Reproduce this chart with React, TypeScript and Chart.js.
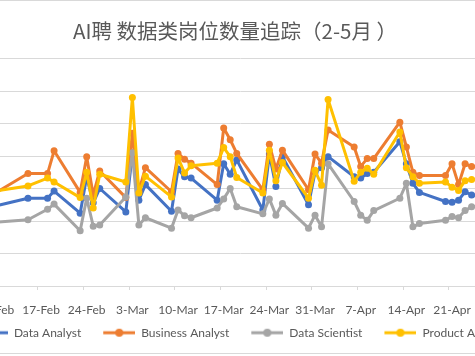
import React, { useEffect, useRef } from 'react';
import { Chart, registerables } from 'chart.js';

Chart.register(...registerables);

const titleText = 'AI聘 数据类岗位数量追踪（2-5月 ）';
const seriesNames = ['Data Analyst', 'Business Analyst', 'Data Scientist', 'Product Analyst'];
const seriesColors = ['#4472C4', '#ED7D31', '#A5A5A5', '#FFC000'];

const dates = [
  '2019-02-10', '2019-02-15', '2019-02-18', '2019-02-19', '2019-02-23', '2019-02-24', '2019-02-25', '2019-02-26',
  '2019-03-02', '2019-03-03', '2019-03-04', '2019-03-05', '2019-03-09', '2019-03-10', '2019-03-11', '2019-03-12',
  '2019-03-16', '2019-03-17', '2019-03-18', '2019-03-19', '2019-03-23', '2019-03-24', '2019-03-25', '2019-03-26',
  '2019-03-30', '2019-03-31', '2019-04-01', '2019-04-02', '2019-04-06', '2019-04-07', '2019-04-08', '2019-04-09',
  '2019-04-13', '2019-04-14', '2019-04-15', '2019-04-16', '2019-04-20', '2019-04-21', '2019-04-22', '2019-04-23',
  '2019-04-24', '2019-04-27',
];

const dataAnalyst = [
  123, 135, 135, 146, 112, 168, 128, 150,
  114, 205, 132, 156, 115, 180, 168, 166, 132, 188, 172, 194, 117, 203, 153, 199, 125, 175,
  182, 199, 168, 166, 173, 175, 222, 188, 158, 144, 130, 129, 132, 145, 140, 138,
];
const businessAnalyst = [
  143, 173, 173, 208, 144, 199, 140, 177,
  136, 235, 146, 182, 145, 204, 195, 189, 156, 243, 225, 204, 148, 218, 180, 209, 148, 203,
  189, 240, 214, 184, 196, 196, 252, 214, 175, 170, 170, 188, 156, 188, 184, 182,
];
const dataScientist = [
  98, 102, 118, 126, 85, 135, 92, 94,
  137, 205, 94, 105, 89, 117, 108, 105, 120, 134, 150, 122, 111, 134, 109, 127, 89, 109,
  91, 188, 130, 109, 101, 116, 135, 158, 91, 96, 101, 107, 105, 116, 122, 124,
];
const productAnalyst = [
  146, 154, 166, 160, 136, 175, 120, 172,
  160, 290, 143, 169, 137, 197, 174, 185, 189, 213, 199, 167, 143, 209, 162, 190, 135, 178,
  155, 287, 161, 175, 181, 172, 237, 182, 168, 158, 160, 152, 147, 162, 164, 165,
];

const tickDates = [
  '2019-02-10', '2019-02-17', '2019-02-24', '2019-03-03', '2019-03-10', '2019-03-17',
  '2019-03-24', '2019-03-31', '2019-04-07', '2019-04-14', '2019-04-21',
];
const tickLabels = [
  '10-Feb', '17-Feb', '24-Feb', '3-Mar', '10-Mar', '17-Mar',
  '24-Mar', '31-Mar', '7-Apr', '14-Apr', '21-Apr',
];

const X_MIN = -11.5;
const PX_PER_DAY = 6.524;

const BASE = Date.UTC(2019, 1, 17);
const dayIdx = (iso: string) => {
  const [y, m, d] = iso.split('-').map(Number);
  return (Date.UTC(y, m - 1, d) - BASE) / 86400000;
};

function legendImage(color: string) {
  const c = document.createElement('canvas');
  c.width = 44;
  c.height = 10;
  const ctx = c.getContext('2d')!;
  ctx.strokeStyle = color;
  ctx.lineWidth = 3;
  ctx.beginPath();
  ctx.moveTo(12, 5);
  ctx.lineTo(44, 5);
  ctx.stroke();
  ctx.fillStyle = color;
  ctx.beginPath();
  ctx.arc(28, 5, 4, 0, Math.PI * 2);
  ctx.fill();
  return c;
}

export default function App() {
  const ref = useRef<HTMLCanvasElement>(null);

  useEffect(() => {
    const all = [dataAnalyst, businessAnalyst, dataScientist, productAnalyst];
    const imgs = seriesColors.map(legendImage);
    const chart = new Chart(ref.current!, {
      type: 'line',
      data: {
        datasets: seriesNames.map((name, i) => ({
          label: name,
          data: dates.map((d, j) => ({ x: dayIdx(d), y: all[i][j] })),
          borderColor: seriesColors[i],
          backgroundColor: seriesColors[i],
          borderWidth: 3,
          pointRadius: 3.5,
          pointBorderWidth: 0,
          pointBackgroundColor: seriesColors[i],
          tension: 0,
          order: 4 - i,
          borderJoinStyle: 'round',
          borderCapStyle: 'round',
        })),
      },
      options: {
        animation: false,
        responsive: false,
        layout: { padding: { left: 0, right: 0, top: 0, bottom: 4.3 } },
        plugins: {
          title: {
            display: true,
            text: titleText,
            color: '#595959',
            font: { family: "'Noto Sans CJK SC', sans-serif", size: 20.5, weight: 'normal', lineHeight: 1.2 },
            padding: { top: 18.4, bottom: 14.5 },
          },
          legend: {
            position: 'bottom',
            labels: {
              usePointStyle: true,
              pointStyleWidth: 44,
              boxHeight: 10,
              padding: 10,
              color: '#595959',
              font: { family: 'Lato', size: 12 },
              generateLabels: (ch: any) =>
                ch.data.datasets.map((ds: any, i: number) => ({
                  text: ds.label,
                  fillStyle: ds.borderColor,
                  strokeStyle: ds.borderColor,
                  lineWidth: 0,
                  pointStyle: imgs[i],
                  hidden: false,
                  datasetIndex: i,
                  fontColor: '#595959',
                })),
            },
          },
          tooltip: { enabled: false },
        },
        scales: {
          x: {
            type: 'linear',
            min: X_MIN,
            max: 72.65,
            afterBuildTicks: (scale: any) => {
              scale.ticks = tickDates.map((d) => ({ value: dayIdx(d) - 0.5 }));
            },
            afterFit: (scale: any) => {
              scale.height = 30.7;
            },
            ticks: {
              autoSkip: false,
              maxRotation: 0,
              labelOffset: 3.26,
              padding: 13,
              color: '#595959',
              font: { family: 'Lato', size: 12 },
              callback: (_v: any, i: number) => tickLabels[i],
            },
            grid: { drawOnChartArea: false, drawTicks: true, tickLength: 4, color: '#d9d9d9' },
            border: { color: '#d9d9d9' },
          },
          y: {
            min: 0,
            max: 350,
            afterFit: (scale: any) => {
              scale.width = 31;
            },
            ticks: { display: false, stepSize: 50 },
            grid: { color: '#d9d9d9', drawTicks: false },
            border: { display: false },
          },
          y2: {
            position: 'right',
            min: 0,
            max: 350,
            afterFit: (scale: any) => {
              scale.width = 20;
            },
            ticks: { display: false },
            grid: { display: false, drawTicks: false },
            border: { display: false },
          },
        },
      } as any,
    });
    const area = chart.chartArea;
    const wantedMax = X_MIN + (area.right - area.left) / PX_PER_DAY;
    (chart.options as any).scales.x.max = wantedMax;
    chart.update();
    return () => chart.destroy();
  }, []);

  return (
    <div
      style={{
        position: 'fixed',
        left: -65,
        top: 0,
        width: 600,
        height: 354,
        borderTop: '1px solid #d9d9d9',
        borderBottom: '1px solid #d9d9d9',
        boxSizing: 'border-box',
        background: '#fff',
      }}
    >
      <canvas ref={ref} width={600} height={352} style={{ display: 'block', width: 600, height: 352 }} />
    </div>
  );
}
